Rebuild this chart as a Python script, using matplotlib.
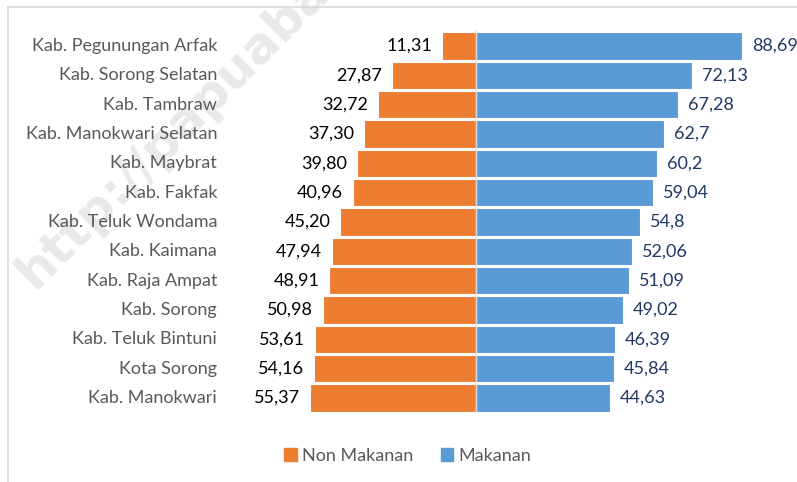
import matplotlib
matplotlib.use("Agg")
import matplotlib.pyplot as plt
from matplotlib.lines import Line2D
from matplotlib.patches import Patch

categories = ["Kab. Pegunungan Arfak", "Kab. Sorong Selatan", "Kab. Tambraw",
              "Kab. Manokwari Selatan", "Kab. Maybrat", "Kab. Fakfak",
              "Kab. Teluk Wondama", "Kab. Kaimana", "Kab. Raja Ampat",
              "Kab. Sorong", "Kab. Teluk Bintuni", "Kota Sorong", "Kab. Manokwari"]
non_makanan = [11.31, 27.87, 32.72, 37.30, 39.80, 40.96, 45.20, 47.94, 48.91,
               50.98, 53.61, 54.16, 55.37]
makanan = [88.69, 72.13, 67.28, 62.7, 60.2, 59.04, 54.8, 52.06, 51.09,
           49.02, 46.39, 45.84, 44.63]
non_labels = ["11,31", "27,87", "32,72", "37,30", "39,80", "40,96", "45,20",
              "47,94", "48,91", "50,98", "53,61", "54,16", "55,37"]
mak_labels = ["88,69", "72,13", "67,28", "62,7", "60,2", "59,04", "54,8",
              "52,06", "51,09", "49,02", "46,39", "45,84", "44,63"]

plt.rcParams['font.family'] = ['Lato', 'DejaVu Sans']

W, H = 797, 482
fig = plt.figure(figsize=(W / 100, H / 100), dpi=100)

# outer frame
fig.add_artist(Line2D([8 / W, 1], [1 - 7 / H, 1 - 7 / H], color='#d9d9d9', lw=1.2, transform=fig.transFigure))
fig.add_artist(Line2D([8 / W, 8 / W], [0, 1 - 7 / H], color='#d9d9d9', lw=1.2, transform=fig.transFigure))

# watermark
fig.text(35 / W, 1 - 290 / H, "http://papuabarat.bps.go.id", rotation=45, fontsize=36,
         fontweight='bold', color='#e9e9e9', ha='left', va='baseline', zorder=0,
         rotation_mode='anchor', family=['DejaVu Sans'])

ax_l, ax_r = 230, 775
cx, scale = 476, 3.0
ax = fig.add_axes([ax_l / W, (H - 412.7) / H, (ax_r - ax_l) / W, (412.7 - 31.3) / H])
ax.set_xlim(-(cx - ax_l) / scale, (ax_r - cx) / scale)
ax.set_ylim(len(categories) - 0.5, -0.5)
ax.patch.set_alpha(0)

orange = '#ed7d31'
blue = '#5b9bd5'
y = list(range(len(categories)))
ax.barh(y, [-v for v in non_makanan], height=0.93, color=orange, edgecolor='white', linewidth=0.8, zorder=2)
ax.barh(y, makanan, height=0.93, color=blue, edgecolor='white', linewidth=0.8, zorder=2)
ax.axvline(0, color='#d9d9d9', lw=1, zorder=3)

for i in y:
    ax.text(-non_makanan[i] - 3.3, i, non_labels[i], ha='right', va='center',
            fontsize=13, color='black')
    ax.text(makanan[i] + 3.3, i, mak_labels[i], ha='left', va='center',
            fontsize=13, color='#203864')

ax.set_yticks([])
ax.set_xticks([])
for s in ax.spines.values():
    s.set_visible(False)

for i, c in enumerate(categories):
    fig.text(217 / W, 1 - (46 + i * 29.33) / H, c, ha='right', va='center',
             fontsize=13, color='#595959')

handles = [Patch(color=orange, label='Non Makanan'), Patch(color=blue, label='Makanan')]
fig.legend(handles=handles, loc='center', bbox_to_anchor=(408 / W, 1 - 456 / H), ncol=2,
           frameon=False, fontsize=13, labelcolor='#595959', handlelength=0.7,
           handleheight=0.7, handletextpad=0.3, columnspacing=1.5)

fig.savefig('out.png', dpi=100)
